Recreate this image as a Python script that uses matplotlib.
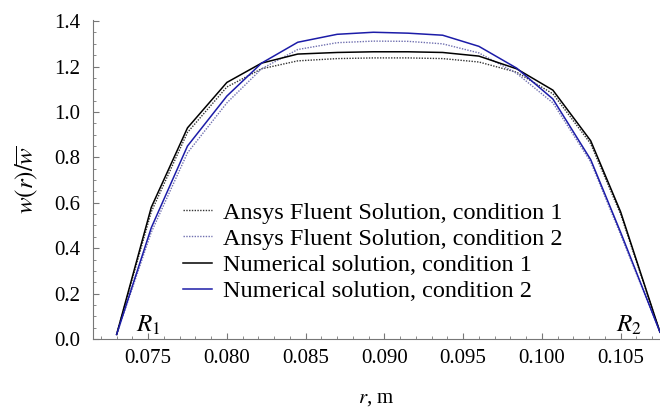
import matplotlib
matplotlib.use("Agg")
import matplotlib.pyplot as plt
from matplotlib.ticker import MultipleLocator, FormatStrFormatter

plt.rcParams['font.family'] = ['Liberation Serif', 'DejaVu Serif']
plt.rcParams['mathtext.fontset'] = 'stix'

# radius nodes, m
r = [0.0730, 0.0752, 0.0775, 0.0800, 0.0822, 0.0845, 0.0870, 0.0893,
     0.0915, 0.0937, 0.0960, 0.0984, 0.1007, 0.1031, 0.1050, 0.1075]

ansys_1 = [0.02, 0.56, 0.91, 1.11, 1.19, 1.225, 1.235, 1.238,
           1.238, 1.235, 1.22, 1.175, 1.08, 0.86, 0.55, 0.03]
ansys_2 = [0.02, 0.47, 0.82, 1.04, 1.19, 1.275, 1.305, 1.312,
           1.311, 1.30, 1.26, 1.17, 1.04, 0.78, 0.46, 0.03]
num_1 = [0.02, 0.58, 0.93, 1.13, 1.215, 1.255, 1.262, 1.265,
         1.265, 1.262, 1.246, 1.19, 1.096, 0.873, 0.56, 0.03]
num_2 = [0.02, 0.49, 0.85, 1.07, 1.215, 1.307, 1.342, 1.351,
         1.347, 1.338, 1.289, 1.193, 1.057, 0.79, 0.47, 0.03]

labels = ['Ansys Fluent Solution, condition 1',
          'Ansys Fluent Solution, condition 2',
          'Numerical solution, condition 1',
          'Numerical solution, condition 2']

fig = plt.figure(figsize=(6.6, 4.08), dpi=100)
ax = fig.add_axes([93/660, 69/408, 567/660, 319/408])

ax.plot(r, ansys_1, color='#333333', lw=1, ls=(0, (1, 1)), label=labels[0])
ax.plot(r, ansys_2, color='#7070b0', lw=1, ls=(0, (1, 1)), label=labels[1])
ax.plot(r, num_1, color='black', lw=1.1, label=labels[2])
ax.plot(r, num_2, color='#1c1ca8', lw=1.1, label=labels[3])

ax.set_xlim(0.0715, 0.1075)
ax.set_ylim(0, 1.405)
ax.xaxis.set_major_locator(MultipleLocator(0.005))
ax.xaxis.set_minor_locator(MultipleLocator(0.001))
ax.xaxis.set_major_formatter(FormatStrFormatter('%.3f'))
ax.yaxis.set_major_locator(MultipleLocator(0.2))
ax.yaxis.set_minor_locator(MultipleLocator(0.05))
ax.yaxis.set_major_formatter(FormatStrFormatter('%.1f'))

for s in ['top', 'right']:
    ax.spines[s].set_visible(False)
for s in ['left', 'bottom']:
    ax.spines[s].set_color('#777777')
ax.tick_params(which='both', direction='in', color='#777777', labelsize=15)
ax.tick_params(which='major', length=4)
ax.tick_params(which='minor', length=2)
ax.tick_params(axis='x', pad=7)
ax.tick_params(axis='y', pad=9)

ax.text(0.075, 0.03, '$R_1$', fontsize=18, ha='center', va='baseline')
ax.text(0.1055, 0.03, '$R_2$', fontsize=18, ha='center', va='baseline')

ax.set_xlabel('$r$, m', fontsize=15, labelpad=15)
ax.set_ylabel(r'$w(r)/\overline{w}$', fontsize=18, labelpad=10)

ax.legend(loc='upper left', bbox_to_anchor=(0.159, 0.43), frameon=False,
          fontsize=17.5, borderpad=0, borderaxespad=0, handlelength=1.2,
          handletextpad=0.45, labelspacing=0.17)

fig.savefig('out.png', dpi=100)
